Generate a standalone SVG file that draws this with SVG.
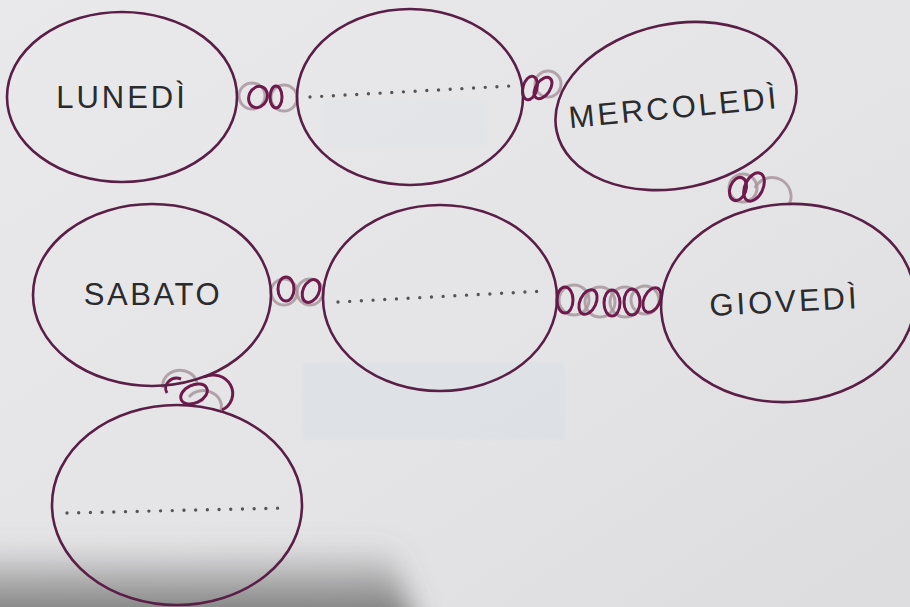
<svg xmlns="http://www.w3.org/2000/svg" width="910" height="607" viewBox="0 0 910 607">
  <defs>
    <linearGradient id="bg" x1="0" y1="0" x2="1" y2="1">
      <stop offset="0" stop-color="#e9e9eb"/>
      <stop offset="0.6" stop-color="#e4e4e6"/>
      <stop offset="1" stop-color="#dcdcde"/>
    </linearGradient>
    <linearGradient id="shadow" x1="0" y1="0" x2="0" y2="1">
      <stop offset="0" stop-color="#707070" stop-opacity="0"/>
      <stop offset="0.45" stop-color="#6a6a6a" stop-opacity="0.55"/>
      <stop offset="1" stop-color="#505050" stop-opacity="0.9"/>
    </linearGradient>
    <filter id="soft" x="-20%" y="-50%" width="140%" height="200%">
      <feGaussianBlur stdDeviation="14"/>
    </filter>
    <filter id="blur1" x="-10%" y="-10%" width="120%" height="120%">
      <feGaussianBlur stdDeviation="1.5"/>
    </filter>
    <style>
      .oval { fill: none; stroke: #5a1f47; stroke-width: 2.6; }
      .day { font-family: "Liberation Sans", Arial, sans-serif; font-size: 31px; fill: #2b2b2d; text-anchor: middle; }
      .dots { fill: none; stroke: #555; stroke-width: 3.4; stroke-linecap: round; stroke-dasharray: 0 11.7; }
      .dk { fill: none; stroke: #6e1a4c; stroke-width: 3; }
      .lt { fill: none; stroke: #a8979f; stroke-width: 3; opacity: 0.85; }
    </style>
  </defs>

  <!-- background paper -->
  <rect x="0" y="0" width="910" height="607" fill="url(#bg)"/>
  <rect x="302" y="362" width="263" height="78" fill="#cfdbe6" opacity="0.28" filter="url(#blur1)"/>
  <rect x="322" y="100" width="165" height="48" fill="#d3dde7" opacity="0.15" filter="url(#blur1)"/>
  <path d="M-40 545 L390 545 L420 640 L-40 640 Z" fill="url(#shadow)" filter="url(#soft)"/>

  <!-- connectors (chain links) -->
  <g id="connectors">
    <!-- Lunedì - blank top -->
    <g id="chain-1-2">
      <circle class="lt" cx="252" cy="96" r="13"/>
      <circle class="lt" cx="284" cy="98" r="13"/>
      <ellipse class="dk" cx="258" cy="97" rx="9" ry="11" transform="rotate(25 258 97)"/>
      <ellipse class="dk" cx="276" cy="97" rx="6" ry="11"/>
    </g>
    <!-- blank top - Mercoledì -->
    <g id="chain-2-3">
      <circle class="lt" cx="548" cy="84" r="13"/>
      <ellipse class="dk" cx="530" cy="88" rx="7" ry="12" transform="rotate(15 530 88)"/>
      <ellipse class="dk" cx="543" cy="88" rx="7" ry="12" transform="rotate(35 543 88)"/>
    </g>
    <!-- Mercoledì - Giovedì -->
    <g id="chain-3-6">
      <circle class="lt" cx="743" cy="188" r="14"/>
      <path class="lt" d="M755 188 A17 17 0 0 1 789 205"/>
      <ellipse class="dk" cx="738" cy="189" rx="8" ry="12" transform="rotate(20 738 189)"/>
      <ellipse class="dk" cx="754" cy="187" rx="9" ry="15" transform="rotate(25 754 187)"/>
    </g>
    <!-- Sabato - blank middle -->
    <g id="chain-4-5">
      <circle class="lt" cx="284" cy="292" r="13"/>
      <circle class="lt" cx="310" cy="292" r="13"/>
      <ellipse class="dk" cx="286" cy="289" rx="8" ry="12"/>
      <ellipse class="dk" cx="311" cy="291" rx="8" ry="12" transform="rotate(25 311 291)"/>
    </g>
    <!-- blank middle - Giovedì -->
    <g id="chain-5-6">
      <circle class="lt" cx="574" cy="300" r="15"/>
      <circle class="lt" cx="600" cy="302" r="15"/>
      <circle class="lt" cx="625" cy="302" r="15"/>
      <circle class="lt" cx="645" cy="300" r="14"/>
      <ellipse class="dk" cx="565" cy="300" rx="8" ry="13"/>
      <ellipse class="dk" cx="588" cy="302" rx="8" ry="13" transform="rotate(25 588 302)"/>
      <ellipse class="dk" cx="612" cy="303" rx="8" ry="13"/>
      <ellipse class="dk" cx="632" cy="302" rx="8" ry="13"/>
      <ellipse class="dk" cx="652" cy="300" rx="8" ry="13" transform="rotate(25 652 300)"/>
    </g>
    <!-- Sabato - blank bottom -->
    <g id="chain-4-7">
      <path class="lt" d="M163 388 A17 15 0 0 1 197 383"/>
      <path class="lt" d="M189 397 A18 16 0 0 1 221 410"/>
      <path class="dk" d="M167 393 A11 10 0 0 1 181 379"/>
      <ellipse class="dk" cx="194" cy="394" rx="14" ry="9" transform="rotate(-25 194 394)"/>
      <path class="dk" d="M204 377 A17 16 0 0 1 222 410"/>
    </g>
  </g>

  <!-- nodes -->
  <g id="node-lunedi">
    <ellipse class="oval" cx="122" cy="97" rx="115" ry="85"/>
    <text class="day" x="122" y="108" letter-spacing="3">LUNEDÌ</text>
  </g>

  <g id="node-blank-top">
    <ellipse class="oval" cx="410" cy="97" rx="113" ry="88"/>
    <path class="dots" d="M310 97 L510 86"/>
  </g>

  <g id="node-mercoledi">
    <ellipse class="oval" cx="676" cy="106" rx="122" ry="82" transform="rotate(-12 676 106)"/>
    <text class="day" x="675" y="118" letter-spacing="3" transform="rotate(-5.5 675 118)">MERCOLEDÌ</text>
  </g>

  <g id="node-sabato">
    <ellipse class="oval" cx="152" cy="295" rx="119" ry="91"/>
    <text class="day" x="153" y="305" letter-spacing="2.6">SABATO</text>
  </g>

  <g id="node-blank-middle">
    <ellipse class="oval" cx="440" cy="298" rx="117" ry="93"/>
    <path class="dots" d="M338 302 L545 291"/>
  </g>

  <g id="node-giovedi">
    <ellipse class="oval" cx="788" cy="303" rx="127" ry="99" transform="rotate(-4 788 303)"/>
    <text class="day" x="785" y="312" letter-spacing="3" transform="rotate(-3 785 312)">GIOVEDÌ</text>
  </g>

  <g id="node-blank-bottom">
    <ellipse class="oval" cx="177" cy="505" rx="125" ry="100"/>
    <path class="dots" d="M67 513 L285 508"/>
  </g>
</svg>
